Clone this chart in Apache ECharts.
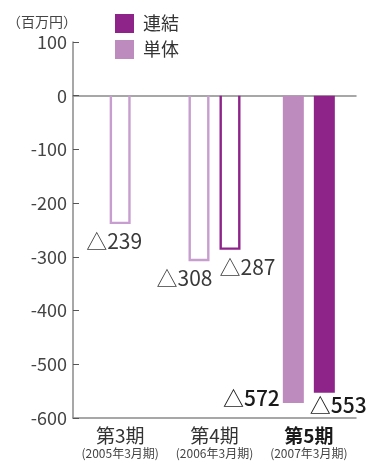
<!DOCTYPE html>
<html><head><meta charset="utf-8">
<script src="https://cdn.jsdelivr.net/npm/echarts@6/dist/echarts.min.js"></script>
<style>html,body{margin:0;padding:0;background:#fff}#c{width:366px;height:462px}</style>
</head><body><div id="c"></div>
<script>
// ---- data ----
const categories = ['第3期', '第4期', '第5期'];
const fiscalYears = ['(2005年3月期)', '(2006年3月期)', '(2007年3月期)'];
const tanTai = [-239, -308, -572];     // 単体
const renketsu = [null, -287, -553];   // 連結
const yMin = -600, yMax = 100, yStep = 100;
const unitLabel = '（百万円）';
const seriesNames = ['単体', '連結'];

// ---- style ----
const FONT = '"Noto Sans CJK JP", "Noto Sans", sans-serif';
const C_REN = '#8E2489', C_TAN = '#BD8BBE', C_TAN_LINE = '#C89ED0';
const FINAL = 2;          // last period drawn filled & bold
const BAR_W = 21, PAIR = 31;

// label placement per series (0 単体, 1 連結) and category
function labelPlace(s, ci, left, right, cx, by) {
  if (s === 0 && ci === 0) return {x: cx - 6, y: by + 17, align: 'center'};
  if (s === 0 && ci === 1) return {x: right + 3, y: by + 17, align: 'right'};
  if (s === 1 && ci === 1) return {x: left, y: by + 17, align: 'left'};
  if (s === 0 && ci === 2) return {x: left - 3, y: by - 5, align: 'right'};
  return {x: left - 4, y: by + 12, align: 'left'};
}

function makeSeries(sIdx, values, fill, line) {
  return {
    type: 'custom', name: seriesNames[sIdx], clip: false,
    itemStyle: {color: fill},
    data: values.map((v, i) => [i, v]).filter(d => d[1] != null),
    renderItem(params, api) {
      const ci = api.value(0), v = api.value(1);
      const base = api.coord([ci, 0]);
      const end = api.coord([ci, v]);
      const pair = tanTai[ci] != null && renketsu[ci] != null;
      const cx = base[0] + (pair ? (sIdx === 0 ? -PAIR / 2 : PAIR / 2) : 0);
      const left = cx - BAR_W / 2, right = cx + BAR_W / 2;
      const filled = ci === FINAL;
      const lw = 2.4, h = lw / 2;
      const rect = filled
        ? {type: 'rect', shape: {x: left, y: base[1], width: BAR_W, height: end[1] - base[1]},
           style: {fill: fill}}
        : {type: 'polyline', shape: {points: [
              [left + h, base[1]], [left + h, end[1] - h], [right - h, end[1] - h], [right - h, base[1]]]},
           style: {fill: null, stroke: line, lineWidth: lw, lineJoin: 'miter'}};
      const p = labelPlace(sIdx, ci, left, right, cx, end[1]);
      const text = {type: 'text', style: {
        text: '△' + Math.abs(v), x: p.x, y: p.y, align: p.align, verticalAlign: 'middle',
        fill: filled ? '#1a1a1a' : '#3a3a3a', fontSize: 21, fontFamily: FONT,
        fontWeight: filled ? 500 : 400
      }};
      return {type: 'group', children: [rect, text]};
    }
  };
}

const chart = echarts.init(document.getElementById('c'), null, {renderer: 'canvas'});
chart.setOption({
  animation: false,
  backgroundColor: '#fff',
  title: {text: unitLabel, left: 2, top: 10, textStyle: {fontSize: 14, fontWeight: 'normal', color: '#444', fontFamily: FONT}},
  legend: {
    data: ['連結', '単体'], orient: 'vertical', left: 115, top: 14, padding: 0,
    itemWidth: 19, itemHeight: 19, itemGap: 7, icon: 'rect',
    textStyle: {fontSize: 18, color: '#333', fontFamily: FONT, padding: [0, 0, 0, 4]}
  },
  grid: {left: 73, right: 10, top: 42, bottom: 44, containLabel: false},
  xAxis: [
    {type: 'category', data: categories, position: 'top',
     axisLine: {onZero: true, lineStyle: {color: '#8a8a8a', width: 1.5}},
     axisTick: {show: false}, axisLabel: {show: false}},
    {type: 'category', data: categories, position: 'bottom',
     axisLine: {onZero: false, lineStyle: {color: '#8a8a8a', width: 1.5}},
     axisTick: {show: false},
     axisLabel: {
       margin: 8, interval: 0,
       formatter: (val, i) => (i === FINAL ? '{c|' + val + '}' : '{a|' + val + '}') + '\n{b|' + fiscalYears[i] + '}',
       rich: {
         a: {fontSize: 19, lineHeight: 20, color: '#333', fontFamily: FONT},
         c: {fontSize: 19, lineHeight: 20, color: '#1a1a1a', fontWeight: 'bold', fontFamily: FONT},
         b: {fontSize: 12, lineHeight: 14, color: '#444', fontFamily: FONT}
       }
     }}
  ],
  yAxis: {
    type: 'value', min: yMin, max: yMax, interval: yStep,
    axisLine: {show: true, lineStyle: {color: '#8a8a8a', width: 1.5}},
    axisTick: {show: true, inside: true, length: 6, lineStyle: {color: '#555'}},
    splitLine: {show: false},
    axisLabel: {fontSize: 18, color: '#444', margin: 6, fontFamily: FONT}
  },
  series: [
    makeSeries(0, tanTai, C_TAN, C_TAN_LINE),
    makeSeries(1, renketsu, C_REN, C_REN)
  ]
});
</script></body></html>
